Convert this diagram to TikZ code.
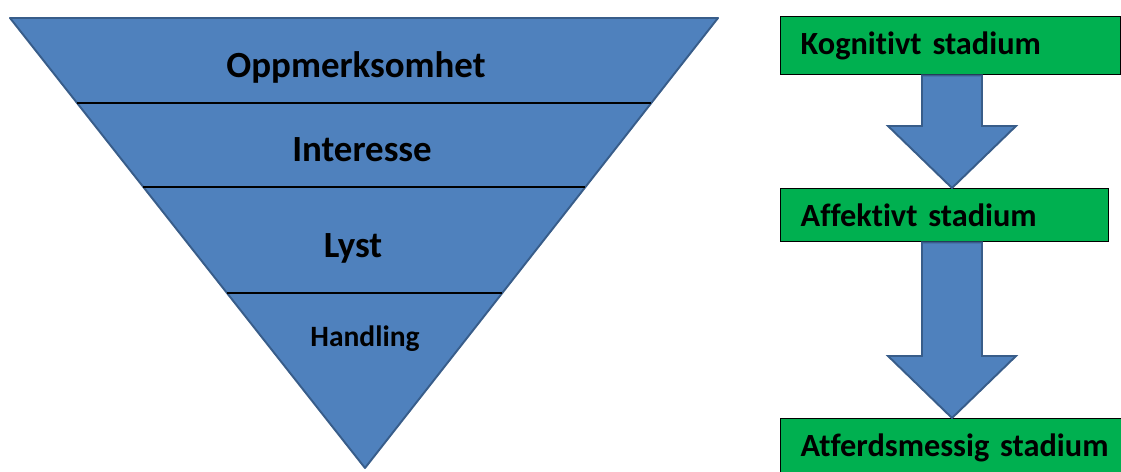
\documentclass[tikz,border=0pt]{standalone}
\usepackage{fontspec}
\setmainfont{Carlito}[Ligatures=NoCommon,WordSpace=0.8]
\usetikzlibrary{calc}
\definecolor{funnelblue}{HTML}{4F81BD}
\definecolor{edgeblue}{HTML}{385D8A}
\definecolor{stagegreen}{HTML}{00B050}
\begin{document}
\begin{tikzpicture}[
  x=0.02cm,y=-0.02cm,
  funnel/.style={draw=edgeblue,fill=funnelblue,line width=1.1pt,line join=round},
  layer/.style={draw=black,line width=0.8pt},
  word/.style={font=\bfseries\fontsize{21}{25}\selectfont,text=black},
  stage/.style={draw=black,line width=0.8pt,fill=stagegreen,anchor=north west,
    inner xsep=0.4cm,inner ysep=0pt,align=left,
    font=\bfseries\fontsize{18.4}{22}\selectfont},
  blockarrow/.style={draw=edgeblue,fill=funnelblue,line width=1.1pt},
]
\useasboundingbox (0,0) rectangle (1121,472);
\coordinate (tl) at (10,18);
\coordinate (tr) at (718,18);
\coordinate (tip) at (365,468);
\draw[funnel] (tl) -- (tr) -- (tip) -- cycle;
\foreach \t in {0.189,0.376,0.611}{
  \draw[layer] ($(tl)!\t!(tip)$) -- ($(tr)!\t!(tip)$);
}
\node[word] (att) at (356,67) {Oppmerksomhet};
\node[word] (int) at (362,150) {Interesse};
\node[word] (lyst) at (353,248) {Lyst};
\node[word,font=\bfseries\fontsize{16.8}{20}\selectfont] (hand) at (365,339) {Handling};
\node[stage,text width=6cm,minimum height=1.16cm] (kog) at (780,16) {Kognitivt stadium};
\node[stage,text width=5.76cm,minimum height=1.06cm] (aff) at (780,188) {Affektivt stadium};
\node[stage,text width=6.2cm,minimum height=1.16cm] (atf) at (780,418) {Atferdsmessig stadium};
\coordinate (ax) at (952,0);
\foreach \a/\b in {kog/aff,aff/atf}{
  \draw[blockarrow] ($(\a.south -| ax)+(-30,0)$) -- ($(\b.north -| ax)+(-30,-62)$)
    -- ($(\b.north -| ax)+(-64,-62)$) -- (\b.north -| ax)
    -- ($(\b.north -| ax)+(64,-62)$) -- ($(\b.north -| ax)+(30,-62)$)
    -- ($(\a.south -| ax)+(30,0)$) -- cycle;
}
\end{tikzpicture}
\end{document}
